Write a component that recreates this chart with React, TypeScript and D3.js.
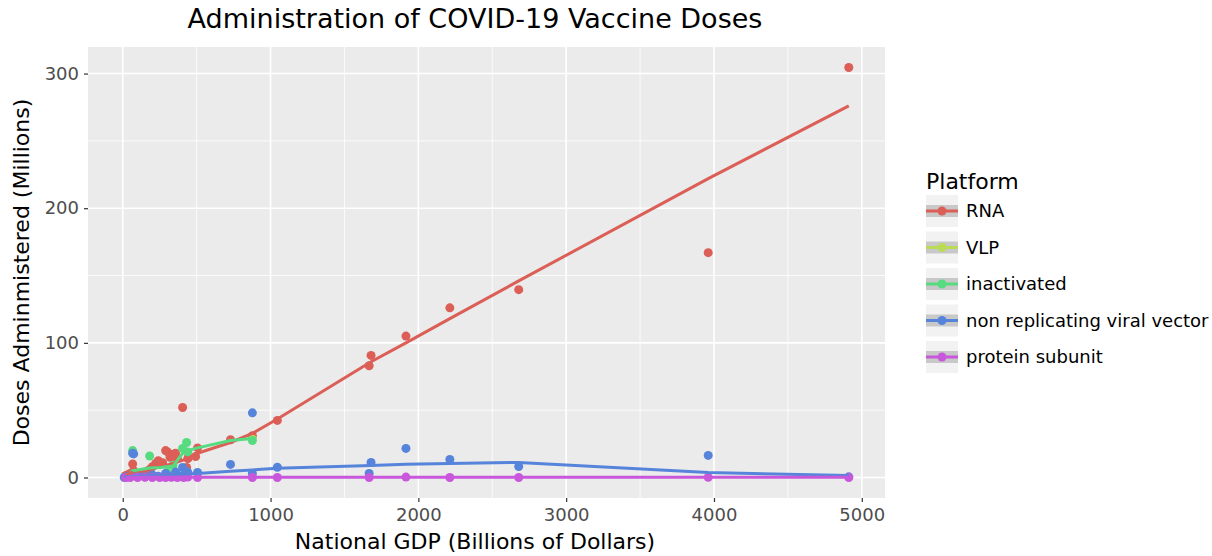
import React, { useRef, useEffect } from "react";
import * as d3 from "d3";

// platforms and colours
const PLATFORMS = ["RNA", "VLP", "inactivated", "non replicating viral vector", "protein subunit"];
const COLORS = ["#db5f57", "#b9db57", "#57db80", "#5784db", "#c957db"];

// points: GDP (billions) / doses (millions)
const RNA_GDP = [20, 35, 50, 67, 74, 100, 130, 150, 182, 200, 223, 240, 270, 290, 303, 320, 340, 357, 370, 405, 432, 440, 445, 493, 506, 729, 877, 1046, 1667, 1680, 1916, 2213, 2679, 3961, 4912];
const RNA_DOSES = [1.5, 2, 3, 10, 5, 3, 2.5, 4, 6, 8, 10.4, 12.5, 11, 20, 19, 15, 17, 18, 14, 52, 7.5, 14, 15, 15.6, 22, 28, 31, 42.4, 83, 90.7, 105, 126, 139.5, 167, 304.5];

const VLP_GDP = [877];
const VLP_DOSES = [28.5];

const INACT_GDP = [67, 74, 182, 300, 340, 405, 432, 440, 877];
const INACT_DOSES = [20, 3, 16, 4, 9, 21.6, 26, 19, 27.5];

const NRVV_GDP = [10, 20, 35, 50, 67, 74, 100, 150, 200, 240, 290, 320, 357, 370, 405, 412, 440, 506, 729, 877, 877, 1046, 1667, 1680, 1916, 2213, 2679, 3961, 4912];
const NRVV_DOSES = [0, 0.3, 0.5, 1, 18, 17.5, 1.5, 0.5, 2, 1, 3, 0.5, 4, 1.5, 7.4, 2, 4, 3.7, 9.7, 48, 3, 7.6, 3, 11.2, 21.6, 13.4, 8.2, 16.4, 0.5];

const PROT_GDP = [20, 50, 100, 150, 200, 250, 290, 330, 370, 412, 440, 506, 877, 1046, 1667, 1916, 2213, 2679, 3961, 4912];
const PROT_DOSES = [0, 0, 0, 0.2, 0, 0, 0, 0.1, 0, 0, 0.3, 0, 0, 0, 0, 0.3, 0, 0, 0.1, 0];

// smoothed lines
const RNA_FIT_GDP = [20, 67, 182, 290, 357, 440, 506, 729, 877, 1046, 1680, 1916, 2213, 2679, 3961, 4912];
const RNA_FIT = [2, 4, 6, 9, 11, 14, 18, 26, 32.7, 43.5, 86, 100, 118, 146, 222, 276];
const INACT_FIT_GDP = [67, 182, 256, 340, 405, 440, 506, 729, 877];
const INACT_FIT = [5, 7, 7.4, 8.5, 18, 20, 22, 27.5, 29];
const NRVV_FIT_GDP = [10, 200, 506, 729, 1046, 1680, 1916, 2213, 2679, 3961, 4912];
const NRVV_FIT = [0.5, 1.5, 3, 4.6, 6.8, 8.9, 9.8, 10.4, 11.2, 3.7, 1.5];
const PROT_FIT_GDP = [20, 506, 1916, 4912];
const PROT_FIT = [0.1, 0.1, 0.15, 0.1];

const X_TICKS = [0, 1000, 2000, 3000, 4000, 5000];
const X_MINOR = [500, 1500, 2500, 3500, 4500];
const Y_TICKS = [0, 100, 200, 300];
const Y_MINOR = [50, 150, 250];

const FONT = "DejaVu Sans, sans-serif";

export default function App() {
  const ref = useRef<SVGSVGElement>(null);

  useEffect(() => {
    const svg = d3.select(ref.current);
    svg.selectAll("*").remove();

    const width = 1212;
    const height = 556;
    const panel = { left: 88, right: 885, top: 47, bottom: 498 };
    const titleX = 475;

    const points = [
      [RNA_GDP, RNA_DOSES],
      [VLP_GDP, VLP_DOSES],
      [INACT_GDP, INACT_DOSES],
      [NRVV_GDP, NRVV_DOSES],
      [PROT_GDP, PROT_DOSES],
    ];
    const fits = [
      [RNA_FIT_GDP, RNA_FIT, 0],
      [INACT_FIT_GDP, INACT_FIT, 2],
      [NRVV_FIT_GDP, NRVV_FIT, 3],
      [PROT_FIT_GDP, PROT_FIT, 4],
    ] as [number[], number[], number][];

    const allX = points.flatMap((p) => p[0]);
    const allY = points.flatMap((p) => p[1]);
    const [x0, x1] = d3.extent(allX) as [number, number];
    const [y0, y1] = d3.extent(allY) as [number, number];
    const xe = (x1 - x0) * 0.05;
    const ye = (y1 - y0) * 0.05;

    const x = d3.scaleLinear().domain([x0 - xe, x1 + xe]).range([panel.left, panel.right]);
    const y = d3.scaleLinear().domain([y0 - ye, y1 + ye]).range([panel.bottom, panel.top]);

    svg.append("rect").attr("width", width).attr("height", height).attr("fill", "#fff");

    // panel
    svg.append("rect")
      .attr("x", panel.left)
      .attr("y", panel.top)
      .attr("width", panel.right - panel.left)
      .attr("height", panel.bottom - panel.top)
      .attr("fill", "#ebebeb");

    const grid = svg.append("g");
    X_MINOR.forEach((v) => {
      grid.append("line").attr("x1", x(v)).attr("x2", x(v)).attr("y1", panel.top).attr("y2", panel.bottom)
        .attr("stroke", "#fff").attr("stroke-width", 0.8);
    });
    Y_MINOR.forEach((v) => {
      grid.append("line").attr("x1", panel.left).attr("x2", panel.right).attr("y1", y(v)).attr("y2", y(v))
        .attr("stroke", "#fff").attr("stroke-width", 0.8);
    });
    X_TICKS.forEach((v) => {
      grid.append("line").attr("x1", x(v)).attr("x2", x(v)).attr("y1", panel.top).attr("y2", panel.bottom)
        .attr("stroke", "#fff").attr("stroke-width", 1.6);
    });
    Y_TICKS.forEach((v) => {
      grid.append("line").attr("x1", panel.left).attr("x2", panel.right).attr("y1", y(v)).attr("y2", y(v))
        .attr("stroke", "#fff").attr("stroke-width", 1.6);
    });

    // axes
    const xAxis = d3.axisBottom(x).tickValues(X_TICKS).tickSize(4).tickPadding(6).tickFormat(d3.format("d"));
    const gx = svg.append("g").attr("transform", `translate(0,${panel.bottom})`).call(xAxis);
    gx.select(".domain").remove();
    gx.selectAll("line").attr("stroke", "#333").attr("stroke-width", 1.2);
    gx.selectAll("text").attr("fill", "#4d4d4d").style("font-size", "18px").style("font-family", FONT);

    const yAxis = d3.axisLeft(y).tickValues(Y_TICKS).tickSize(4).tickPadding(5).tickFormat(d3.format("d"));
    const gy = svg.append("g").attr("transform", `translate(${panel.left},0)`).call(yAxis);
    gy.select(".domain").remove();
    gy.selectAll("line").attr("stroke", "#333").attr("stroke-width", 1.2);
    gy.selectAll("text").attr("fill", "#4d4d4d").style("font-size", "18px").style("font-family", FONT);

    // points
    const gp = svg.append("g");
    points.forEach(([xs, ys], i) => {
      gp.selectAll(null)
        .data(xs.map((v, j) => [v, ys[j]]))
        .enter()
        .append("circle")
        .attr("cx", (d) => x(d[0]))
        .attr("cy", (d) => y(d[1]))
        .attr("r", 4.5)
        .attr("fill", COLORS[i]);
    });

    // smooth lines
    const line = d3.line<[number, number]>().x((d) => x(d[0])).y((d) => y(d[1]));
    fits.forEach(([xs, ys, ci]) => {
      svg.append("path")
        .datum(xs.map((v, j) => [v, ys[j]] as [number, number]))
        .attr("d", line)
        .attr("fill", "none")
        .attr("stroke", COLORS[ci])
        .attr("stroke-width", 3)
        .attr("stroke-linejoin", "round");
    });

    // titles
    svg.append("text")
      .attr("x", titleX)
      .attr("y", 28)
      .attr("text-anchor", "middle")
      .style("font-family", FONT)
      .style("font-size", "27px")
      .text("Administration of COVID-19 Vaccine Doses");

    svg.append("text")
      .attr("x", titleX)
      .attr("y", 549)
      .attr("text-anchor", "middle")
      .style("font-family", FONT)
      .style("font-size", "22px")
      .text("National GDP (Billions of Dollars)");

    svg.append("text")
      .attr("transform", `translate(29,${(panel.top + panel.bottom) / 2}) rotate(-90)`)
      .attr("text-anchor", "middle")
      .style("font-family", FONT)
      .style("font-size", "22px")
      .text("Doses Adminmistered (Millions)");

    // legend
    const lg = svg.append("g").attr("transform", "translate(926,0)");
    lg.append("text")
      .attr("x", 0)
      .attr("y", 189)
      .style("font-family", FONT)
      .style("font-size", "22px")
      .text("Platform");

    PLATFORMS.forEach((name, i) => {
      const cy = 211 + i * 36.5;
      lg.append("rect").attr("x", 0).attr("y", cy - 16).attr("width", 32).attr("height", 32).attr("fill", "#f2f2f2");
      lg.append("rect").attr("x", 0).attr("y", cy - 6).attr("width", 32).attr("height", 12).attr("fill", "#c8c8c8");
      lg.append("line").attr("x1", 0).attr("x2", 32).attr("y1", cy).attr("y2", cy)
        .attr("stroke", COLORS[i]).attr("stroke-width", 3);
      lg.append("circle").attr("cx", 16).attr("cy", cy).attr("r", 4.5).attr("fill", COLORS[i]);
      lg.append("text")
        .attr("x", 40)
        .attr("y", cy)
        .attr("dy", "0.35em")
        .style("font-family", FONT)
        .style("font-size", "18px")
        .text(name);
    });
  }, []);

  return (
    <div style={{ position: "absolute", left: 0, top: 0 }}>
      <svg ref={ref} width={1212} height={556} style={{ display: "block" }} />
    </div>
  );
}
